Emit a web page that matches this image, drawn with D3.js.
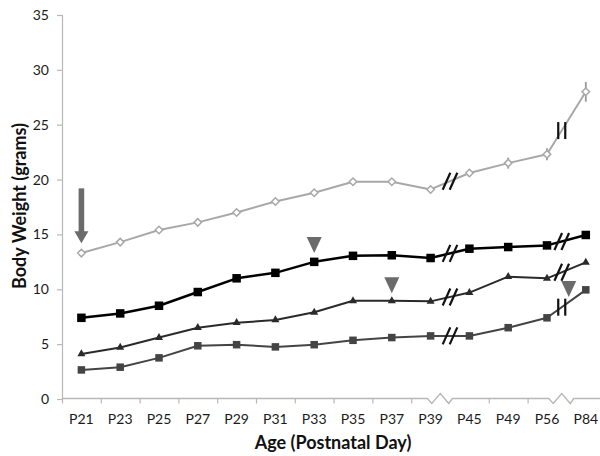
<!DOCTYPE html>
<html>
<head>
<meta charset="utf-8">
<script src="https://cdn.jsdelivr.net/npm/d3@7"></script>
<style>
  body { margin: 0; background: #fff; }
  svg { display: block; font-family: Lato, "Open Sans", sans-serif; }
</style>
</head>
<body>
<svg id="chart" width="600" height="456"></svg>
<script>
// categories and tick labels
const ages = ['P21','P23','P25','P27','P29','P31','P33','P35','P37','P39','P45','P49','P56','P84'];
const yTicks = [0, 5, 10, 15, 20, 25, 30, 35];

// series values (grams)
const grayDiamond = [13.3, 14.3, 15.4, 16.1, 17.0, 18.0, 18.8, 19.8, 19.8, 19.1, 20.6, 21.5, 22.3, 28.0];
const graySpread  = [0, 0, 0, 0, 0, 0, 0, 0, 0, 0, 0.35, 0.5, 0.55, 0.9];
const blackSquare = [7.4, 7.8, 8.5, 9.75, 11.0, 11.5, 12.5, 13.05, 13.1, 12.85, 13.7, 13.85, 14.0, 14.95];
const triangle    = [4.1, 4.7, 5.6, 6.5, 6.95, 7.2, 7.9, 8.95, 8.95, 8.9, 9.7, 11.15, 11.0, 12.45];
const graySquare  = [2.65, 2.9, 3.75, 4.85, 4.95, 4.75, 4.95, 5.35, 5.6, 5.75, 5.75, 6.5, 7.4, 9.95];

// axis breaks: after index, fraction along the segment
const breaks = [{ after: 9, t: 0.5, axisT: 0.25 }, { after: 12, t: 0.38, axisT: 0.38 }];

// annotations: arrow at P21, arrowheads (tip value)
const arrow = { cat: 'P21', from: 19.2, to: 14.2 };
const marks = [{ after: 6, t: 0, tip: 13.3 }, { after: 8, t: 0, tip: 9.65 }, { after: 12, t: 0.56, tip: 9.3 }];

const svg = d3.select('#chart');
const x = d3.scaleBand().domain(ages).range([62, 62 + 14 * 38.8]);
const y = d3.scaleLinear().domain([0, 35]).range([399, 15]);
const cx = c => x(c) + x.bandwidth() / 2;
const xAt = (i, t) => cx(ages[i]) + t * x.step();

const axisColor = '#b8b8b8';
const textColor = '#1a1a1a';

// y axis
const gy = svg.append('g');
gy.append('line').attr('x1', 62.5).attr('x2', 62.5).attr('y1', y(35)).attr('y2', y(0))
  .attr('stroke', axisColor).attr('stroke-width', 1.2);
gy.selectAll('line.tick').data(yTicks).enter().append('line')
  .attr('x1', 57).attr('x2', 62.5).attr('y1', d => y(d) + 0.5).attr('y2', d => y(d) + 0.5)
  .attr('stroke', axisColor).attr('stroke-width', 1.2);
gy.selectAll('text').data(yTicks).enter().append('text')
  .attr('x', 49).attr('y', d => y(d) + 5).attr('text-anchor', 'end')
  .attr('font-size', 14).attr('fill', textColor).text(d => d);

// x axis with zigzag breaks
const axY = 398.5;
let pathD = 'M62,' + axY;
breaks.forEach(b => {
  const c = xAt(b.after, b.axisT);
  pathD += ` L${c - 13},${axY} L${c - 8.5},${axY + 5} L${c},${axY - 5} L${c + 8.5},${axY + 5} L${c + 12},${axY}`;
});
pathD += ' L600,' + axY;
svg.append('path').attr('d', pathD).attr('fill', 'none').attr('stroke', axisColor).attr('stroke-width', 1.4);
const skipTicks = [10, 13];
d3.range(0, 15).filter(k => !skipTicks.includes(k)).forEach(k => {
  const tx = 62 + k * x.step() + 0.5;
  svg.append('line').attr('x1', tx).attr('x2', tx).attr('y1', axY).attr('y2', axY + 5)
    .attr('stroke', axisColor).attr('stroke-width', 1.2);
});
svg.append('g').selectAll('text').data(ages).enter().append('text')
  .attr('x', d => cx(d)).attr('y', 424).attr('text-anchor', 'middle')
  .attr('font-size', 14).attr('fill', textColor).text(d => d);

// axis titles
svg.append('text').attr('x', 333).attr('y', 449).attr('text-anchor', 'middle')
  .attr('font-size', 18).attr('font-weight', 'bold').attr('fill', '#111').text('Age (Postnatal Day)');
svg.append('text').attr('transform', 'translate(26,206) rotate(-90)').attr('text-anchor', 'middle')
  .attr('font-size', 18).attr('font-weight', 'bold').attr('fill', '#111').text('Body Weight (grams)');

const line = d3.line().x((d, i) => cx(ages[i])).y(d => y(d));

function drawSeries(vals, color, width, marker, breakKinds, spread) {
  const g = svg.append('g');
  g.append('path').datum(vals).attr('d', line).attr('fill', 'none')
    .attr('stroke', color).attr('stroke-width', width).attr('stroke-linejoin', 'round');
  if (spread) {
    const errIdx = d3.range(vals.length).filter(i => spread[i] > 0);
    g.selectAll('line.err').data(errIdx).enter().append('line').attr('class', 'err')
      .attr('x1', i => cx(ages[i])).attr('x2', i => cx(ages[i]))
      .attr('y1', i => y(vals[i] + spread[i])).attr('y2', i => y(vals[i] - spread[i]))
      .attr('stroke', '#999').attr('stroke-width', 1.8);
  }
  // break marks on the line
  breaks.forEach((b, k) => {
    const bx = xAt(b.after, b.t);
    const by = y(vals[b.after] + b.t * (vals[b.after + 1] - vals[b.after]));
    [-3.5, 3.5].forEach(off => {
      const kind = breakKinds[k];
      const dx = kind === 'bar' ? 0 : 3.8;
      g.append('line')
        .attr('x1', bx + off - dx).attr('y1', by + 8.5)
        .attr('x2', bx + off + dx).attr('y2', by - 8.5)
        .attr('stroke', '#111').attr('stroke-width', 2.2);
    });
  });
  const pts = g.selectAll('.pt').data(vals).enter();
  if (marker === 'diamond') {
    pts.append('path').attr('d', d3.symbol(d3.symbolDiamond2, 36))
      .attr('transform', (d, i) => `translate(${cx(ages[i])},${y(d)})`)
      .attr('fill', '#fff').attr('stroke', color).attr('stroke-width', 1.5);
  } else if (marker === 'triangle') {
    pts.append('path').attr('d', d3.symbol(d3.symbolTriangle, 28))
      .attr('transform', (d, i) => `translate(${cx(ages[i])},${y(d)})`)
      .attr('fill', color);
  } else {
    const s = marker === 'bigsquare' ? 8.5 : 7.5;
    pts.append('rect').attr('x', (d, i) => cx(ages[i]) - s / 2).attr('y', d => y(d) - s / 2)
      .attr('width', s).attr('height', s).attr('fill', color);
  }
}

drawSeries(grayDiamond, '#a8a8a8', 2, 'diamond', ['slash', 'bar'], graySpread);
drawSeries(blackSquare, '#000', 2.5, 'bigsquare', ['slash', 'slash']);
drawSeries(triangle, '#2a2a2a', 2, 'triangle', ['slash', 'slash']);
drawSeries(graySquare, '#444', 2, 'square', ['slash', 'bar']);

// annotations
const annoColor = '#6b6b6b';
const ax = cx(arrow.cat);
svg.append('rect').attr('x', ax - 2.8).attr('y', y(arrow.from)).attr('width', 5.6)
  .attr('height', y(arrow.to) - y(arrow.from) - 11).attr('fill', annoColor);
svg.append('path').attr('d', `M${ax - 7},${y(arrow.to) - 12} L${ax + 7},${y(arrow.to) - 12} L${ax},${y(arrow.to)} Z`)
  .attr('fill', annoColor);
marks.forEach(m => {
  const mx = xAt(m.after, m.t);
  const ty = y(m.tip);
  svg.append('path').attr('d', `M${mx - 7.5},${ty - 16} L${mx + 7.5},${ty - 16} L${mx},${ty} Z`)
    .attr('fill', annoColor);
});
</script>
</body>
</html>
